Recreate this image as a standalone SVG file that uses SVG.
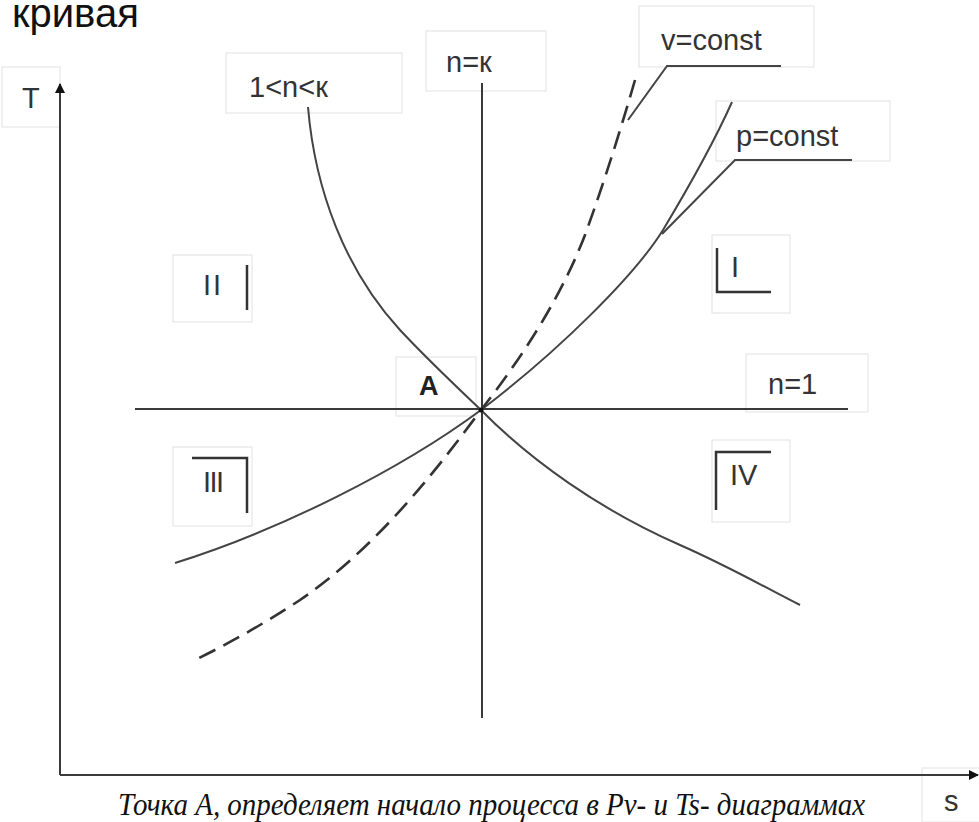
<svg xmlns="http://www.w3.org/2000/svg" width="979" height="822" viewBox="0 0 979 822">
<defs>
<style>
.box{fill:#fff;stroke:#e2e2e2;stroke-width:1}
.lbl{font-family:"Liberation Sans",Arial,sans-serif;font-size:29px;fill:#333}
.ln{fill:none;stroke:#3a3a3a;stroke-width:2}
.cv{fill:none;stroke:#444;stroke-width:2}
.ds{fill:none;stroke:#333;stroke-width:2.6;stroke-dasharray:18 9}
.mk{fill:none;stroke:#333;stroke-width:2.5}
</style>
<marker id="arr" markerWidth="10" markerHeight="10" refX="9" refY="5" orient="auto" markerUnits="userSpaceOnUse" viewBox="0 0 10 10">
<path d="M0,0 L10,5 L0,10 Z" fill="#111"/>
</marker>
</defs>
<rect width="979" height="822" fill="#fff"/>
<text x="12" y="27" font-family="'Liberation Sans',Arial,sans-serif" font-size="40" fill="#111">кривая</text>

<g id="label-T"><rect class="box" x="2" y="67" width="58" height="60"/><text class="lbl" x="22" y="108">T</text></g>
<g id="label-1nk"><rect class="box" x="226" y="53" width="176" height="60"/><text class="lbl" x="249" y="97">1&lt;n&lt;к</text></g>
<g id="label-nk"><rect class="box" x="426" y="31" width="120" height="60"/><text class="lbl" x="446" y="72">n=к</text></g>
<g id="label-v"><rect class="box" x="639" y="6" width="175" height="61"/><text class="lbl" x="661" y="50">v=const</text></g>
<g id="label-p"><rect class="box" x="716" y="101" width="174" height="60"/><text class="lbl" x="736" y="146">p=const</text></g>
<g id="label-n1"><rect class="box" x="746" y="354" width="122" height="58"/><text class="lbl" x="768" y="394">n=1</text></g>
<g id="label-A"><rect class="box" x="396" y="357" width="80" height="59"/><text x="419" y="395" font-family="'Liberation Sans',Arial,sans-serif" font-size="27" font-weight="bold" fill="#222">A</text></g>
<g id="label-s"><rect class="box" x="922" y="768" width="60" height="54"/><text class="lbl" x="944" y="811" font-size="26">s</text></g>

<g id="region-II"><rect class="box" x="173" y="255" width="79" height="67"/><text class="lbl" x="203" y="295" font-size="32" letter-spacing="2">II</text><line class="mk" x1="247" y1="265" x2="247" y2="310"/></g>
<g id="region-I"><rect class="box" x="712" y="235" width="78" height="78"/><text class="lbl" x="731" y="277" font-size="32">I</text><polyline class="mk" points="717,248 717,292 771,292"/></g>
<g id="region-III"><rect class="box" x="173" y="447" width="79" height="79"/><text class="lbl" x="203" y="492" font-size="32" letter-spacing="-1.5">III</text><polyline class="mk" points="192,458 247,458 247,513"/></g>
<g id="region-IV"><rect class="box" x="712" y="440" width="78" height="82"/><text class="lbl" x="730" y="485" font-size="32">IV</text><polyline class="mk" points="716,510 716,452 771,452"/></g>

<g id="connectors">
<line class="ln" x1="60" y1="775" x2="60" y2="84" marker-end="url(#arr)"/>
<line class="ln" x1="60" y1="775" x2="978" y2="775" marker-end="url(#arr)"/>
<line class="ln" x1="482" y1="83" x2="482" y2="718"/>
<line class="ln" x1="135" y1="409" x2="848" y2="409"/>
<path class="cv" d="M308,107 C315,190 345,270 400,330 C430,362 460,390 481,410 C530,460 600,510 680,545 C730,567 770,590 800,605"/>
<path class="cv" d="M175,563 C280,530 400,470 481,410 C560,350 635,275 663,230 C690,185 715,140 732,102"/>
<path class="ds" d="M635,80 C622,125 605,180 585,235 C560,300 520,360 481,410 C440,465 380,545 300,600 C265,623 230,643 195,660"/>
<polyline class="cv" points="628,120 667,66 781,66"/>
<polyline class="cv" points="662,234 735,160 852,160"/>
<circle cx="481" cy="410" r="2.5" fill="#111"/>
</g>

<text x="118" y="815" font-family="'Liberation Serif','Times New Roman',serif" font-size="31" font-style="italic" fill="#111" textLength="747" lengthAdjust="spacingAndGlyphs">Точка А, определяет начало процесса в Pv- и Ts- диаграммах</text>
</svg>
